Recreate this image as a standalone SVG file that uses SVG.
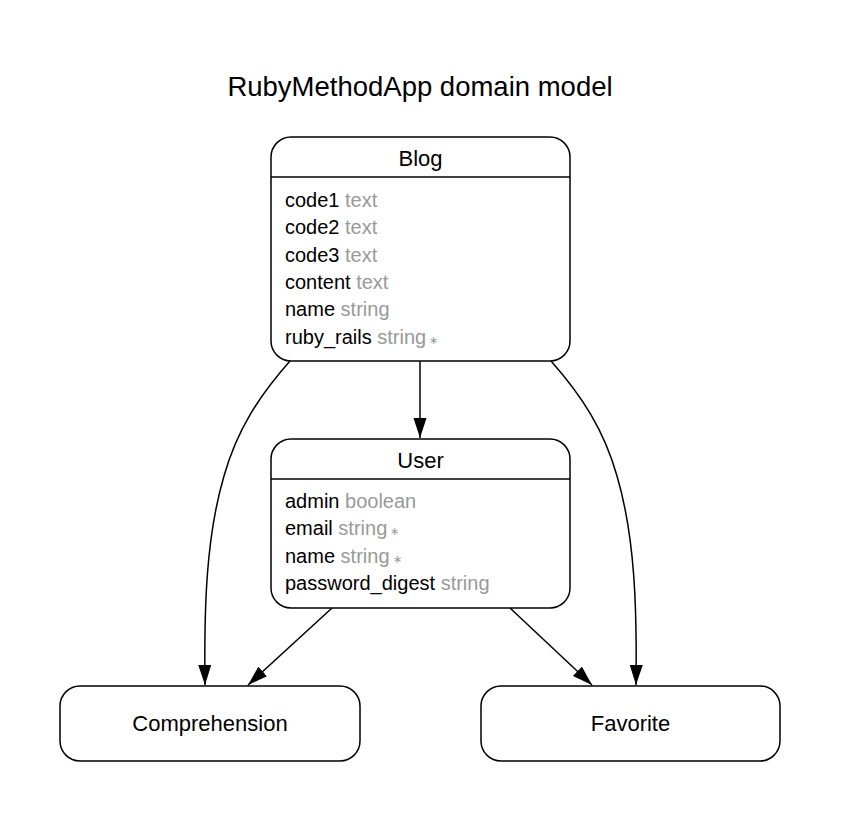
<svg xmlns="http://www.w3.org/2000/svg" width="842" height="821" viewBox="0 0 842 821">
<style>
.box{fill:#fff;stroke:#000;stroke-width:1.5}
.sep{stroke:#000;stroke-width:1.5}
.edge{fill:none;stroke:#000;stroke-width:1.5}
text{font-family:"Liberation Sans",Arial,sans-serif;fill:#000}
.title{font-size:27.5px;text-anchor:middle}
.name{font-size:22px;text-anchor:middle}
.attr{font-size:20px}
.type{fill:#999}
.star{fill:#999;font-size:11px}
</style>
<defs>
<marker id="arr" markerUnits="userSpaceOnUse" markerWidth="22" markerHeight="16" refX="20" refY="7.5" orient="auto">
<path d="M0,1 L20,7.5 L0,14 Z" fill="#000"/>
</marker>
</defs>
<rect width="842" height="821" fill="#fff"/>
<text class="title" x="420" y="96">RubyMethodApp domain model</text>
<g id="connectors">
<path class="edge" d="M420,361 L420,438" marker-end="url(#arr)"/>
<path class="edge" d="M290,361 C259,396 237,430 224,476 C206,537 204,608 205,685" marker-end="url(#arr)"/>
<path class="edge" d="M551,361 C582,396 604,430 617,476 C635,537 637,608 636,685" marker-end="url(#arr)"/>
<path class="edge" d="M332,608 L248,685" marker-end="url(#arr)"/>
<path class="edge" d="M510,608 L592,685" marker-end="url(#arr)"/>
</g>
<g id="Blog">
<rect class="box" x="271" y="137" width="299" height="224" rx="20"/>
<line class="sep" x1="271" y1="177" x2="570" y2="177"/>
<text class="name" x="420.5" y="165.5">Blog</text>
<text class="attr" x="285" y="206.5">code1 <tspan class="type">text</tspan></text>
<text class="attr" x="285" y="234">code2 <tspan class="type">text</tspan></text>
<text class="attr" x="285" y="261.5">code3 <tspan class="type">text</tspan></text>
<text class="attr" x="285" y="289">content <tspan class="type">text</tspan></text>
<text class="attr" x="285" y="316">name <tspan class="type">string</tspan></text>
<text class="attr" x="285" y="343.5">ruby_rails <tspan class="type">string</tspan><tspan class="star"> ∗</tspan></text>
</g>
<g id="User">
<rect class="box" x="271" y="439" width="299" height="169" rx="20"/>
<line class="sep" x1="271" y1="479" x2="570" y2="479"/>
<text class="name" x="420.5" y="467.5">User</text>
<text class="attr" x="285" y="507.5">admin <tspan class="type">boolean</tspan></text>
<text class="attr" x="285" y="535">email <tspan class="type">string</tspan><tspan class="star"> ∗</tspan></text>
<text class="attr" x="285" y="562.5">name <tspan class="type">string</tspan><tspan class="star"> ∗</tspan></text>
<text class="attr" x="285" y="590">password_digest <tspan class="type">string</tspan></text>
</g>
<g id="Comprehension">
<rect class="box" x="60" y="686" width="300" height="75" rx="20"/>
<text class="name" x="210" y="731">Comprehension</text>
</g>
<g id="Favorite">
<rect class="box" x="481" y="686" width="299" height="75" rx="20"/>
<text class="name" x="630.5" y="731">Favorite</text>
</g>
</svg>
